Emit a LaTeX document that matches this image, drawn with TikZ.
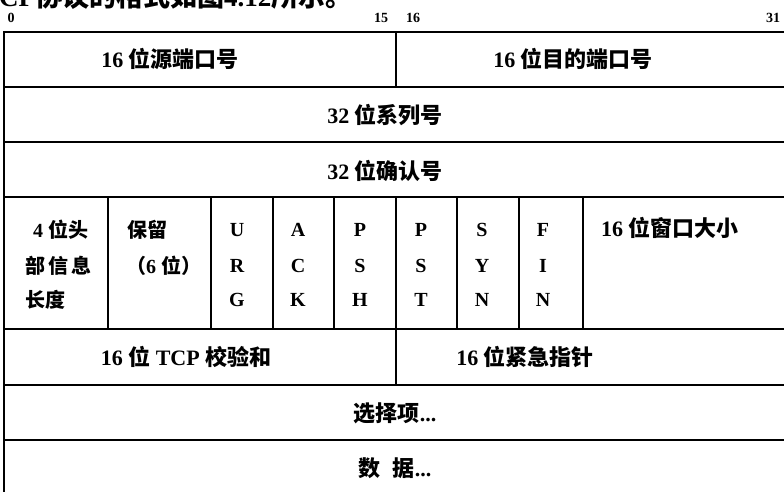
\documentclass[tikz,border=0pt]{standalone}
\usepackage{fontspec}
\setmainfont{Liberation Serif}
\newfontfamily\cjkfont{Noto Sans CJK SC}
\newcommand{\zh}[1]{{\cjkfont #1}}
\tikzset{
  gridline/.style={line width=2pt, black, line cap=rect},
  lbl/.style={inner sep=0pt, font=\fontsize{22}{26}\selectfont\bfseries},
  flag/.style={inner sep=0pt, font=\fontsize{20}{23}\selectfont\bfseries},
  bitno/.style={inner sep=0pt, font=\fontsize{14}{16}\selectfont\bfseries},
  headtxt/.style={inner sep=0pt, font=\fontsize{27}{30}\selectfont\bfseries},
}
\begin{document}
\begin{tikzpicture}[x=1pt, y=-1pt]
\fill[white] (0,0) rectangle (784,492);
\useasboundingbox (0,0) rectangle (784,492);

% cut-off caption line at the very top
\node[headtxt, anchor=west] (cap) at (-1,-4) {CP\zh{协议的格式如图}4.12\zh{所示。}};

% bit numbers
\node[bitno] (b0)  at (11,18)  {0};
\node[bitno] (b15) at (381,18) {15};
\node[bitno] (b16) at (413,18) {16};
\node[bitno] (b31) at (773,18) {31};

% outer frame and row lines
\draw[gridline] (4,32.5) -- (800,32.5);
\draw[gridline] (4,32.5) -- (4,500);
\draw[gridline] (4,87) -- (800,87);
\draw[gridline] (4,142) -- (800,142);
\draw[gridline] (4,197) -- (800,197);
\draw[gridline] (4,329) -- (800,329);
\draw[gridline] (4,385) -- (800,385);
\draw[gridline] (4,440) -- (800,440);
\draw[gridline] (4,496) -- (800,496);

% vertical dividers
\draw[gridline] (396,32.5) -- (396,87);
\draw[gridline] (396,329) -- (396,385);
\foreach \cx in {108,211,273,334,396,457,519,583}{
  \draw[gridline] (\cx,197) -- (\cx,329);
}

% row texts
\node[lbl] (sport) at (170,59) {16 \zh{位源端口号}};
\node[lbl] (dport) at (573,59) {16 \zh{位目的端口号}};
\node[lbl] (seq)   at (385,115) {32 \zh{位系列号}};
\node[lbl] (ack)   at (385,171) {32 \zh{位确认号}};

% flags row
\node[flag, anchor=west] (hl1) at (33,230) {4 \zh{位头}};
\node[flag, anchor=west] (hl2) at (25,266) {\zh{部\hspace{3pt}信\hspace{3pt}息}};
\node[flag, anchor=west] (hl3) at (25,300) {\zh{长度}};
\node[flag, anchor=west] (rs1) at (127,230) {\zh{保留}};
\node[flag, anchor=west] (rs2) at (126,266) {\zh{（}6 \zh{位）}};

\node[flag] (u) at (237,230) {U};
\node[flag] (r) at (237,266) {R};
\node[flag] (g) at (237,300) {G};
\node[flag] (a1) at (298,230) {A};
\node[flag] (c1) at (298,266) {C};
\node[flag] (k1) at (298,300) {K};
\node[flag] (p1) at (360,230) {P};
\node[flag] (s1) at (360,266) {S};
\node[flag] (h1) at (360,300) {H};
\node[flag] (p2) at (421,230) {P};
\node[flag] (s2) at (421,266) {S};
\node[flag] (t2) at (421,300) {T};
\node[flag] (s3) at (482,230) {S};
\node[flag] (y3) at (482,266) {Y};
\node[flag] (n3) at (482,300) {N};
\node[flag] (f4) at (543,230) {F};
\node[flag] (i4) at (543,266) {I};
\node[flag] (n4) at (543,300) {N};

\node[lbl, anchor=west] (win) at (601,228) {16 \zh{位窗口大小}};

% checksum / urgent
\node[lbl] (csum) at (186,357) {16 \zh{位} TCP \zh{校验和}};
\node[lbl] (urg)  at (525,357) {16 \zh{位紧急指针}};

% options / data
\node[lbl] (opt)  at (395,413) {\zh{选择项}...};
\node[lbl] (data) at (395,468) {\zh{数}\hspace{0.55em}\zh{据}...};
\end{tikzpicture}
\end{document}
